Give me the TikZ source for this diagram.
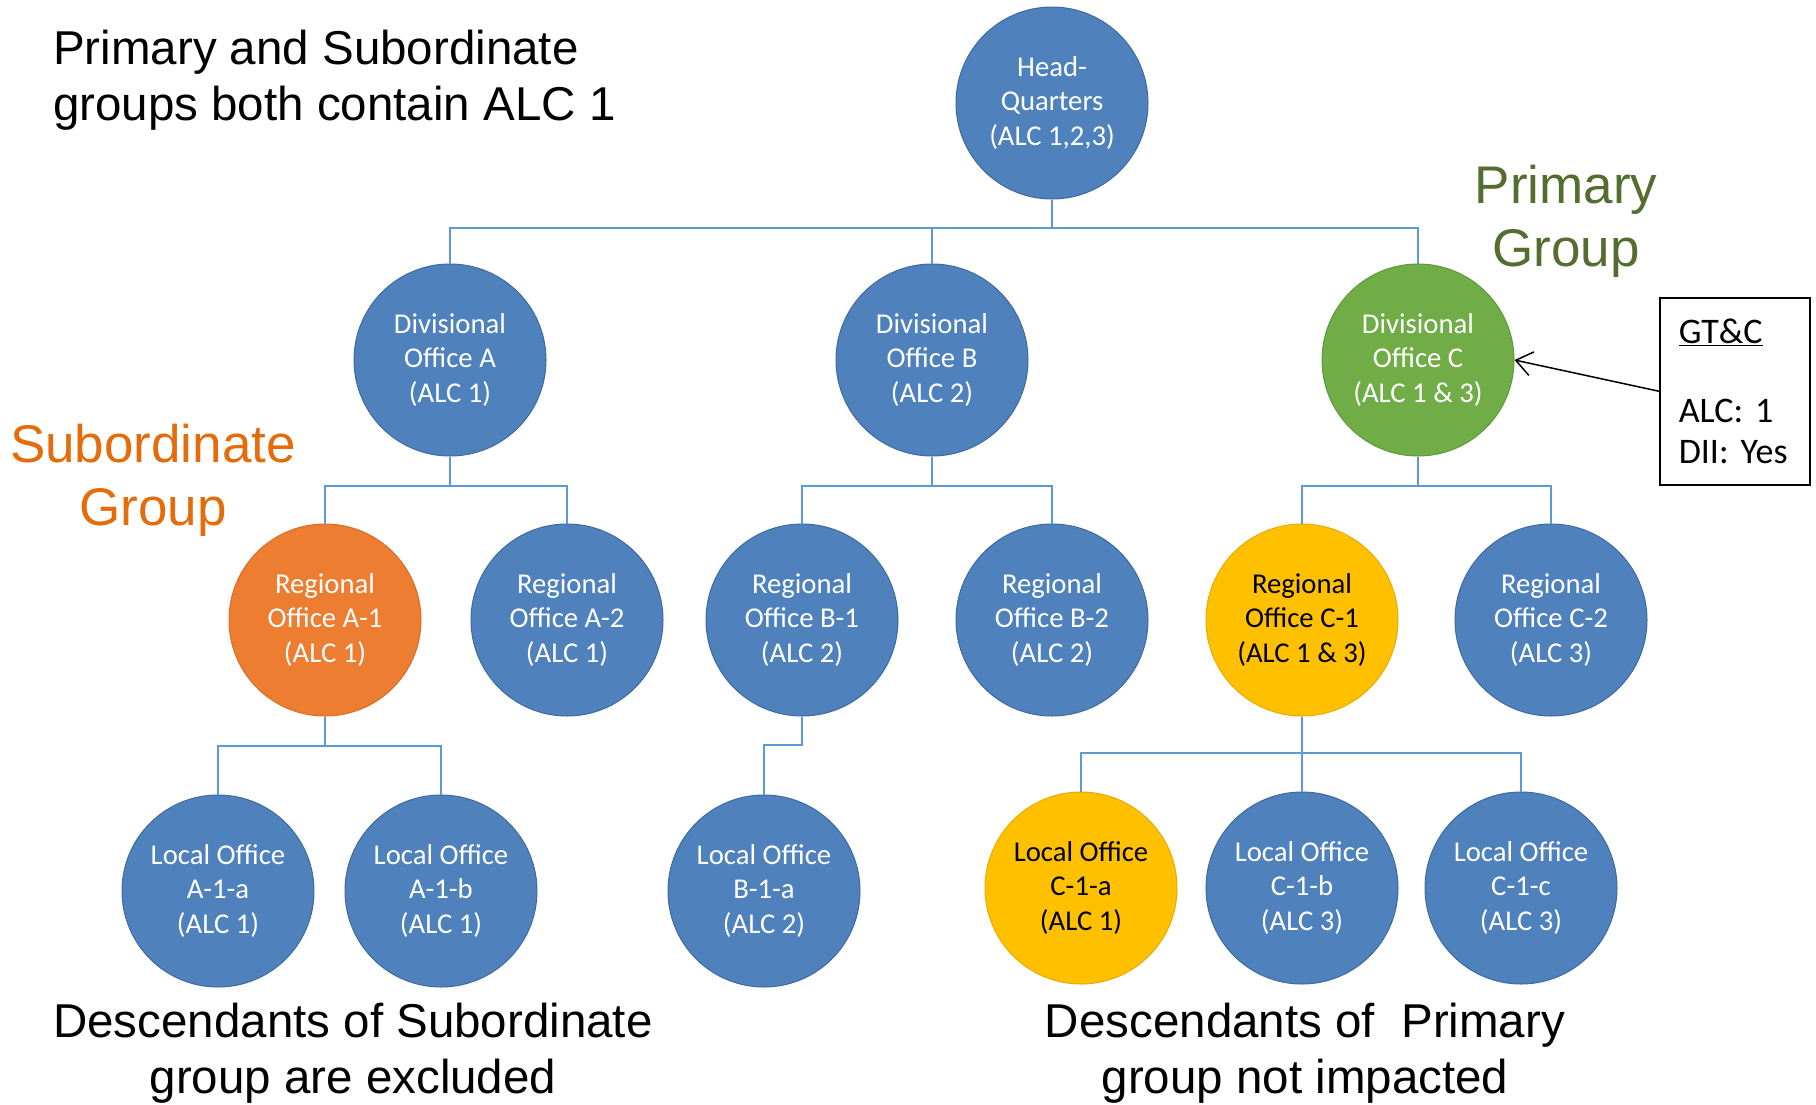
\documentclass[tikz,border=0pt]{standalone}
\usepackage{fontspec}
\setmainfont{Carlito}
\newfontfamily\arialfont{Liberation Sans}
\usepackage{tikz}
\usetikzlibrary{arrows.meta,calc}
\definecolor{ofBlue}{RGB}{79,129,189}
\definecolor{ofBlueDark}{RGB}{62,106,158}
\definecolor{ofOrange}{RGB}{237,125,49}
\definecolor{ofOrangeDark}{RGB}{214,110,40}
\definecolor{ofGreen}{RGB}{112,173,71}
\definecolor{ofGreenDark}{RGB}{96,152,60}
\definecolor{ofYellow}{RGB}{255,192,0}
\definecolor{ofYellowDark}{RGB}{230,172,0}
\definecolor{ofLine}{RGB}{91,155,213}
\definecolor{primGreen}{RGB}{84,110,48}
\definecolor{subOrange}{RGB}{228,108,10}

\begin{document}
\frenchspacing
\begin{tikzpicture}[x=1pt,y=-1pt,
  office/.style={circle,minimum size=192pt,inner sep=0pt,align=center,
    draw=ofBlueDark,fill=ofBlue,line width=1pt,text=white,
    font=\fontsize{28.7}{34.7}\selectfont},
  subgrp/.style={office,draw=ofOrangeDark,fill=ofOrange},
  primgrp/.style={office,draw=ofGreenDark,fill=ofGreen},
  impacted/.style={office,draw=ofYellowDark,fill=ofYellow,text=black},
  link/.style={draw=ofLine,line width=2pt},
  bigtext/.style={align=center,inner sep=0pt,font=\arialfont\fontsize{47.5}{56}\selectfont},
  grouptext/.style={align=center,inner sep=0pt,font=\arialfont\fontsize{53}{63}\selectfont}]
\useasboundingbox (0,0) rectangle (1816,1104);

% top level
\node[office] (hq) at (1052,103) {Head-\\Quarters\\(ALC 1,2,3)};

% divisional offices
\node[office] (divA) at (450,360) {Divisional\\Office A\\(ALC 1)};
\node[office] (divB) at (932,360) {Divisional\\Office B\\(ALC 2)};
\node[primgrp] (divC) at (1418,360) {Divisional\\Office C\\(ALC 1 \& 3)};

% regional offices
\node[subgrp] (regA1) at (325,620) {Regional\\Office A-1\\(ALC 1)};
\node[office] (regA2) at (567,620) {Regional\\Office A-2\\(ALC 1)};
\node[office] (regB1) at (802,620) {Regional\\Office B-1\\(ALC 2)};
\node[office] (regB2) at (1052,620) {Regional\\Office B-2\\(ALC 2)};
\node[impacted] (regC1) at (1302,620) {Regional\\Office C-1\\(ALC 1 \& 3)};
\node[office] (regC2) at (1551,620) {Regional\\Office C-2\\(ALC 3)};

% local offices
\node[office] (locA1a) at (218,891) {Local Office\\A-1-a\\(ALC 1)};
\node[office] (locA1b) at (441,891) {Local Office\\A-1-b\\(ALC 1)};
\node[office] (locB1a) at (764,891) {Local Office\\B-1-a\\(ALC 2)};
\node[impacted] (locC1a) at (1081,888) {Local Office\\C-1-a\\(ALC 1)};
\node[office] (locC1b) at (1302,888) {Local Office\\C-1-b\\(ALC 3)};
\node[office] (locC1c) at (1521,888) {Local Office\\C-1-c\\(ALC 3)};

% connectors
\foreach \c in {divA,divB,divC}
  \draw[link] (hq.south) -- ++(0,28) -| (\c.north);
\foreach \c in {regA1,regA2}
  \draw[link] (divA.south) -- ++(0,29) -| (\c.north);
\foreach \c in {regB1,regB2}
  \draw[link] (divB.south) -- ++(0,29) -| (\c.north);
\foreach \c in {regC1,regC2}
  \draw[link] (divC.south) -- ++(0,29) -| (\c.north);
\foreach \c in {locA1a,locA1b}
  \draw[link] (regA1.south) -- ++(0,29) -| (\c.north);
\draw[link] (regB1.south) -- ++(0,28) -| (locB1a.north);
\foreach \c in {locC1a,locC1b,locC1c}
  \draw[link] (regC1.south) -- ++(0,36) -| (\c.north);

% labels
\node[bigtext,align=left,anchor=west] (title) at (53,80)
  {Primary and Subordinate\\groups both contain ALC 1};
\node[grouptext,text=primGreen] (primlbl) at (1566,221) {Primary\\Group};
\node[grouptext,text=subOrange] (sublbl) at (153,480) {Subordinate\\Group};
\node[bigtext] (subnote) at (353,1053)
  {Descendants of Subordinate\\group are excluded};
\node[bigtext] (primnote) at (1305,1053)
  {Descendants of\ \ Primary\\group not impacted};

% GT&C box
\node[draw,line width=1.5pt,anchor=north west,minimum width=150pt,minimum height=187pt,
  text width=112pt,inner sep=19pt,align=left,font=\fontsize{36}{41}\selectfont\frenchspacing] (gtc) at (1659,297)
  {\underline{GT\&C}\\[38pt]ALC:\ 1\\DII:\ Yes};
\draw[line width=1.5pt,-{Straight Barb[length=16pt,width=24pt,line width=1.5pt]}] (gtc.west) -- (divC.east);
\end{tikzpicture}
\end{document}
